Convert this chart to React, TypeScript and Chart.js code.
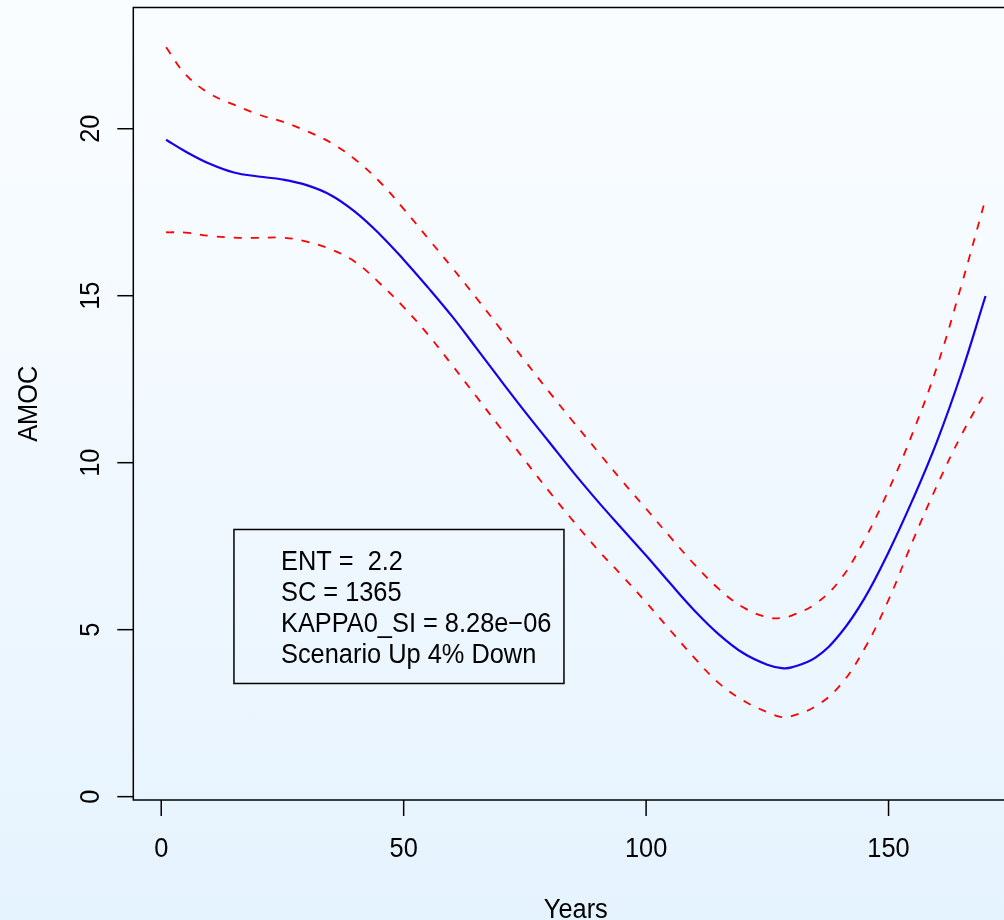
import React, { useEffect, useRef } from "react";
import { Chart, registerables } from "chart.js";

Chart.register(...registerables);

// ---- data ----
const years = [1, 5, 10, 15, 20, 25, 30, 35, 40, 45, 50, 55, 60, 65, 70, 75, 80, 85, 90, 95, 100, 105, 110, 115, 120, 125, 128, 130, 135, 140, 145, 150, 155, 160, 165, 170];
const amocMean = [19.67, 19.32, 18.95, 18.69, 18.57, 18.48, 18.31, 18.01, 17.51, 16.85, 16.08, 15.25, 14.38, 13.43, 12.47, 11.53, 10.62, 9.71, 8.85, 8.03, 7.22, 6.38, 5.57, 4.86, 4.3, 3.95, 3.85, 3.87, 4.17, 4.87, 5.93, 7.32, 8.9, 10.64, 12.67, 14.99];
const amocUpper = [22.44, 21.63, 21.05, 20.72, 20.43, 20.21, 19.93, 19.58, 19.08, 18.42, 17.6, 16.72, 15.84, 14.93, 14.0, 13.05, 12.12, 11.22, 10.34, 9.46, 8.62, 7.77, 6.95, 6.22, 5.67, 5.37, 5.35, 5.42, 5.78, 6.49, 7.68, 9.18, 10.9, 12.88, 15.3, 17.9];
const amocLower = [16.9, 16.89, 16.79, 16.74, 16.73, 16.74, 16.62, 16.39, 16.01, 15.38, 14.66, 13.84, 12.92, 11.98, 11.03, 10.07, 9.14, 8.25, 7.4, 6.62, 5.82, 4.98, 4.15, 3.4, 2.88, 2.53, 2.38, 2.41, 2.71, 3.33, 4.42, 5.89, 7.66, 9.32, 10.82, 12.12];

const xTicks = [0, 50, 100, 150];
const yTicks = [0, 5, 10, 15, 20];
const xTitle = "Years";
const yTitle = "AMOC";
const legendLines = ["ENT =  2.2", "SC = 1365", "KAPPA0_SI = 8.28e\u221206", "Scenario Up 4% Down"];
const legendAnchor = { x: 15, y: 8 };

const FONT = '27px "Liberation Sans", Arial, Helvetica, sans-serif';
const SQ = 0.94;

function drawText(ctx: CanvasRenderingContext2D, s: string, x: number, y: number, rot: boolean, align: CanvasTextAlign) {
  ctx.save();
  ctx.translate(x, y);
  if (rot) ctx.rotate(-Math.PI / 2);
  ctx.scale(SQ, 1);
  ctx.font = FONT;
  ctx.fillStyle = "#000";
  ctx.textAlign = align;
  ctx.textBaseline = "alphabetic";
  ctx.fillText(s, 0, 0);
  ctx.restore();
}

const rAxesPlugin = {
  id: "rAxes",
  afterDraw(chart: any) {
    const ctx: CanvasRenderingContext2D = chart.ctx;
    const a = chart.chartArea;
    const xs = chart.scales.x;
    const ys = chart.scales.y;
    ctx.save();
    ctx.strokeStyle = "#000";
    ctx.lineWidth = 1.5;
    ctx.strokeRect(a.left, a.top, a.right - a.left, a.bottom - a.top);
    yTicks.forEach((v) => {
      const py = ys.getPixelForValue(v);
      ctx.beginPath();
      ctx.moveTo(a.left - 16, py);
      ctx.lineTo(a.left, py);
      ctx.stroke();
      drawText(ctx, String(v), a.left - 34.5, py, true, "center");
    });
    xTicks.forEach((v) => {
      const px = xs.getPixelForValue(v);
      ctx.beginPath();
      ctx.moveTo(px, a.bottom);
      ctx.lineTo(px, a.bottom + 16);
      ctx.stroke();
      drawText(ctx, String(v), px, a.bottom + 57, false, "center");
    });
    drawText(ctx, xTitle, (a.left + a.right) / 2, a.bottom + 117.5, false, "center");
    drawText(ctx, yTitle, 37, (a.top + a.bottom) / 2, true, "center");
    const lx = xs.getPixelForValue(legendAnchor.x);
    const ly = ys.getPixelForValue(legendAnchor.y);
    ctx.lineWidth = 1.5;
    ctx.strokeStyle = "#000";
    ctx.strokeRect(lx, ly, 330, 154);
    legendLines.forEach((s, i) => {
      drawText(ctx, s, lx + 47, ly + 41 + 31 * i, false, "left");
    });
    ctx.restore();
  },
};

export default function App() {
  const ref = useRef<HTMLCanvasElement | null>(null);
  useEffect(() => {
    if (!ref.current) return;
    const mk = (vals: number[]) => years.map((x, i) => ({ x, y: vals[i] }));
    const common = { pointRadius: 0, tension: 0.4, fill: false };
    const chart = new Chart(ref.current, {
      type: "line",
      data: {
        datasets: [
          { ...common, data: mk(amocUpper), borderColor: "#ff0000", borderWidth: 1.8, borderDash: [8, 9] },
          { ...common, data: mk(amocLower), borderColor: "#ff0000", borderWidth: 1.8, borderDash: [8, 9] },
          { ...common, data: mk(amocMean), borderColor: "#1a00e6", borderWidth: 2.2 },
        ],
      },
      options: {
        responsive: false,
        animation: false,
        devicePixelRatio: 1,
        layout: { padding: { left: 133.3, top: 7.5, right: 1040 - 1018.3, bottom: 120 } },
        plugins: { legend: { display: false }, tooltip: { enabled: false } },
        events: [],
        scales: {
          x: { type: "linear", min: -5.76, max: 176.76, display: false },
          y: { type: "linear", min: -0.1, max: 23.63, display: false },
        },
      },
      plugins: [rAxesPlugin],
    } as any);
    return () => chart.destroy();
  }, []);
  return (
    <div
      style={{
        position: "fixed",
        left: 0,
        top: 0,
        width: 1004,
        height: 920,
        overflow: "hidden",
        background: "linear-gradient(to bottom, #fafdff 0%, #f2f9ff 45%, #e5f3fe 100%)",
      }}
    >
      <canvas ref={ref} width={1040} height={920} style={{ display: "block", width: 1040, height: 920 }} />
    </div>
  );
}
